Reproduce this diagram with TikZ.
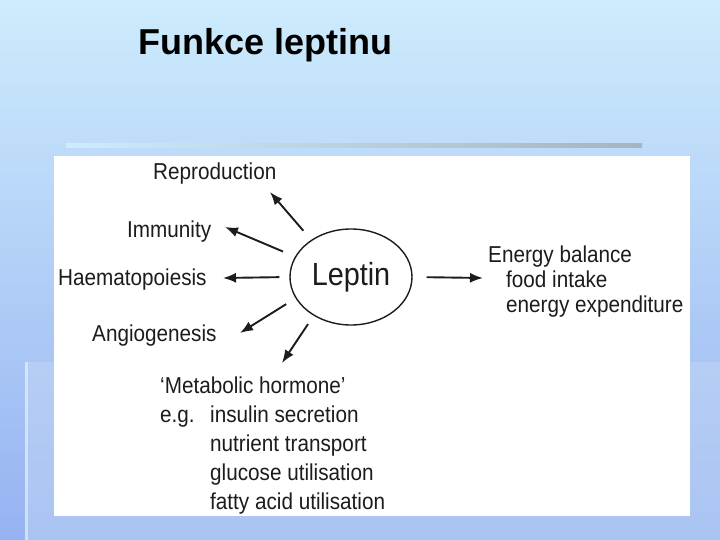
\documentclass[tikz,border=0pt]{standalone}
\usepackage{fontspec}
\setmainfont{Liberation Sans}
\newfontfamily\figfont[Ligatures=TeX, FakeStretch=0.9]{Liberation Sans}
\usetikzlibrary{arrows.meta,positioning,shapes.geometric}
\definecolor{skytop}{RGB}{205,236,252}
\definecolor{skybot}{RGB}{150,178,242}
\definecolor{paneltop}{RGB}{182,206,245}
\definecolor{panelbot}{RGB}{170,196,242}
\definecolor{ink}{RGB}{28,28,28}
\definecolor{rulegray}{RGB}{165,180,192}
\tikzset{
  lbl/.style={anchor=base west, inner sep=0pt, text=ink, font=\figfont\fontsize{23}{26}\selectfont},
  hub/.style={ellipse, draw=ink, line width=1.4pt, minimum width=122pt, minimum height=96pt,
              inner sep=0pt, text=ink, font=\figfont\fontsize{32}{36}\selectfont},
  fn/.style={-{Latex[length=13pt,width=10pt]}, draw=ink, line width=1.9pt},
  headline/.style={anchor=base west, inner sep=0pt, font=\fontsize{36}{40}\selectfont\bfseries}
}
\begin{document}
\begin{tikzpicture}[x=1pt,y=-1pt]
 % slide background
 \shade[top color=skytop, bottom color=skybot] (0,0) rectangle (720,540);
 \useasboundingbox (0,0) rectangle (720,540);
 \shade[top color=paneltop, bottom color=panelbot] (25,362) rectangle (720,540);
 \fill[white, opacity=.45] (25,362) rectangle (28,540);
 \shade[left color=skytop, right color=rulegray] (66,144) rectangle (642,148);
 \fill[white] (54,156) rectangle (690,516);

 \node[headline] (title) at (138,55) {Funkce leptinu};

 \node[hub] (leptin) at (351,277) {Leptin};

 \node[lbl] (repro) at (153,180) {Reproduction};
 \node[lbl] (immun) at (127,237) {Immunity};
 \node[lbl] (haema) at (58,285) {Haematopoiesis};
 \node[lbl] (angio) at (92,341) {Angiogenesis};

 \node[lbl] (meta) at (160,393) {`Metabolic hormone'};
 \node[lbl] (eg) at (160,422) {e.g.};
 \node[lbl] (insul) at (210,422) {insulin secretion};
 \node[lbl] (nutri) at (210,451) {nutrient transport};
 \node[lbl] (gluc) at (210,480) {glucose utilisation};
 \node[lbl] (fatty) at (210,509) {fatty acid utilisation};

 \node[lbl] (energy) at (488,262) {Energy balance};
 \node[lbl] (food) at (506,287) {food intake};
 \node[lbl] (expend) at (506,312) {energy expenditure};

 % arrow tips
 \coordinate (toRepro) at (270,192);
 \coordinate (toImmun) at (225,227);
 \coordinate (toHaema) at (223,278);
 \coordinate (toAngio) at (240,333);
 \coordinate (toMeta) at (282,363);
 \coordinate (toEnergy) at (483,278);

 \draw[fn, shorten <=12pt] (leptin.137) -- (toRepro);
 \draw[fn, shorten <=13pt] (leptin.160) -- (toImmun);
 \draw[fn, shorten <=10pt] (leptin.180) -- (toHaema);
 \draw[fn, shorten <=11pt] (leptin.201) -- (toAngio);
 \draw[fn, shorten <=10pt] (leptin.226) -- (toMeta);
 \draw[fn, shorten <=14pt] (leptin.0) -- (toEnergy);
\end{tikzpicture}
\end{document}
